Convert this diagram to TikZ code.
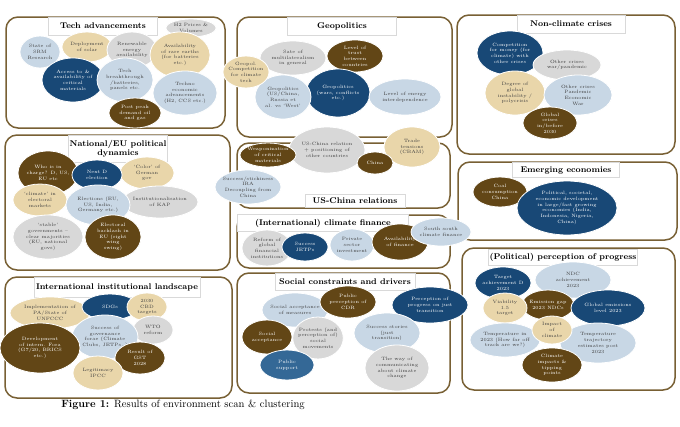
\documentclass[tikz,border=0pt]{standalone}
\usepackage{tikz}
\usetikzlibrary{shapes.geometric}
\definecolor{dkblue}{RGB}{24,72,118}
\definecolor{brwn}{RGB}{98,70,22}
\definecolor{sand}{RGB}{233,214,170}
\definecolor{pale}{RGB}{200,215,229}
\definecolor{grey}{RGB}{216,216,216}
\definecolor{midblue}{RGB}{52,104,150}
\definecolor{frame}{RGB}{120,96,52}
\tikzset{
  blob/.style={ellipse, draw=white, line width=0.8pt, inner sep=-2pt, align=center, font=\fontsize{4.7}{5.7}\selectfont},
  dk/.style={blob, fill=dkblue, text=white},
  md/.style={blob, fill=midblue, text=white},
  br/.style={blob, fill=brwn, text=white},
  sd/.style={blob, fill=sand, text=black!75},
  pl/.style={blob, fill=pale, text=black!75},
  gy/.style={blob, fill=grey, text=black!75},
  sz/.style 2 args={minimum width=#1, minimum height=#2},
  cluster/.style={draw=frame, line width=1.5pt, rounded corners=12pt, fill=white},
  ttl/.style={draw=black!15, fill=white, inner sep=1pt, align=center, font=\bfseries\fontsize{8.3}{9.3}\selectfont}
}
\begin{document}
\begin{tikzpicture}[x=1pt, y=-1pt]
    \useasboundingbox (0,0) rectangle (680,426);
    \fill[white] (0,0) rectangle (680,426);

    % Cluster frames
    \draw[cluster] (6,17) rectangle (225,128);
    \draw[cluster] (5,135) rectangle (230,270);
    \draw[cluster] (5,277) rectangle (232,398);
    \draw[cluster] (237,17) rectangle (452,137);
    \draw[cluster] (237,143) rectangle (450,208);
    \draw[cluster] (237,215) rectangle (450,268);
    \draw[cluster] (237,273) rectangle (450,393);
    \draw[cluster] (457,15) rectangle (675,154);
    \draw[cluster] (458,162) rectangle (677,240);
    \draw[cluster] (462,248) rectangle (675,390);

    % Cluster titles
    \node[ttl, minimum width=109, minimum height=18] (tTech) at (103,26) {Tech advancements};
    \node[ttl, minimum width=96, minimum height=27] (tNat) at (118,149) {National/EU political\\dynamics};
    \node[ttl, minimum width=166, minimum height=20] (tInt) at (117,287) {International institutional landscape};
    \node[ttl, minimum width=109, minimum height=18] (tGeo) at (342,26) {Geopolitics};
    \node[ttl, minimum width=100, minimum height=13] (tUSC) at (355,201) {US-China relations};
    \node[ttl, minimum width=171, minimum height=17] (tFin) at (323,223) {(International) climate finance};
    \node[ttl, minimum width=140, minimum height=17] (tSoc) at (345,282) {Social constraints and drivers};
    \node[ttl, minimum width=108, minimum height=18] (tNon) at (571,24) {Non-climate crises};
    \node[ttl, minimum width=107, minimum height=15] (tEme) at (566,170) {Emerging economies};
    \node[ttl, minimum width=147, minimum height=16] (tPol) at (563,257) {(Political) perception of progress};

    % Tech advancements
    \node[gy, sz={50}{18}] (t1) at (191,28) {H2 Prices \&\\Volumes};
    \node[pl, sz={40}{32}] (t2) at (40,52) {State of\\SRM\\Research};
    \node[sd, sz={50}{30}] (t3) at (87,47) {Deployment\\of solar};
    \node[gy, sz={50}{36}] (t4) at (132,50) {Renewable\\energy\\availability};
    \node[sd, sz={60}{46}] (t5) at (180,55) {Availability\\of rare earths\\(for batteries\\etc.)};
    \node[dk, sz={62}{44}] (t6) at (73,80) {Access to \&\\availability of\\critical\\materials};
    \node[pl, sz={56}{44}] (t7) at (125,80) {Tech\\breakthrough\\/batteries,\\panels etc.};
    \node[pl, sz={64}{44}] (t8) at (185,93) {Techno\\economic\\advancements\\(H2, CCS etc.)};
    \node[br, sz={52}{30}] (t9) at (135,113) {Post peak\\demand oil\\and gas};

    % Geopolitics
    \node[gy, sz={66}{34}] (g1) at (293,58) {Sate of\\multilateralism\\in general};
    \node[br, sz={56}{32}] (g2) at (355,56) {Level of\\trust\\between\\countries};
    \node[dk, sz={64}{48}] (g3) at (338,93) {Geopolitics\\(wars, conflicts\\etc.)};
    \node[pl, sz={56}{44}] (g4) at (283,97) {Geopolitics\\(US/China,\\Russia et\\al. vs `West'};
    \node[pl, sz={72}{36}] (g5) at (405,97) {Level of energy\\interdependence};
    \node[sd, sz={46}{32}] (g6) at (246,72) {Geopol.\\Competition\\for climate\\tech};

    % US-China relations
    \node[gy, sz={76}{46}] (u1) at (327,150) {US-China relation\\+ positioning of\\other countries};
    \node[sd, sz={56}{40}] (u2) at (412,147) {Trade\\tensions\\(CBAM)};
    \node[br, sz={56}{24}] (u3) at (268,155) {Weaponization\\of critical\\materials};
    \node[br, sz={36}{22}] (u4) at (375,163) {China};
    \node[pl, sz={66}{34}] (u5) at (248,187) {Success/stickiness\\IRA\\Decoupling from\\China};

    % (International) climate finance
    \node[gy, sz={50}{36}] (f1) at (267,248) {Reform of\\global\\financial\\institutions};
    \node[pl, sz={44}{32}] (f3) at (352,245) {Private\\sector\\investment};
    \node[dk, sz={46}{28}] (f2) at (305,247) {Success\\JETPs};
    \node[br, sz={56}{36}] (f4) at (400,242) {Availability\\of finance};
    \node[pl, sz={60}{28}] (f5) at (441,232) {South south\\climate finance};

    % Non-climate crises
    \node[dk, sz={66}{44}] (n1) at (510,53) {Competition\\for money (for\\climate) with\\other crises};
    \node[gy, sz={68}{30}] (n2) at (567,65) {Other crises\\war/pandemic};
    \node[sd, sz={60}{44}] (n3) at (515,93) {Degree of\\global\\instability /\\polycrisis};
    \node[pl, sz={68}{40}] (n4) at (578,95) {Other crises\\Pandemic\\Economic\\War};
    \node[br, sz={54}{32}] (n5) at (550,123) {Global\\crises\\in/before\\2030};

    % Emerging economies
    \node[br, sz={54}{30}] (e1) at (500,192) {Coal\\consumption\\China};
    \node[dk, sz={100}{54}] (e2) at (567,208) {Political, societal,\\economic development\\in large/fast growing\\economies (India,\\Indonesia, Nigeria,\\China)};

    % (Political) perception of progress
    \node[pl, sz={76}{36}] (p2) at (573,280) {NDC\\achievement\\2023};
    \node[dk, sz={56}{32}] (p1) at (503,283) {Target\\achievement D\\2023};
    \node[br, sz={52}{30}] (p4) at (548,305) {Emission gap\\2023 NDCs};
    \node[sd, sz={44}{30}] (p3) at (505,308) {Viability\\1.5\\target};
    \node[dk, sz={74}{36}] (p5) at (608,308) {Global emissions\\level 2023};
    \node[pl, sz={70}{34}] (p7) at (505,340) {Temperature in\\2023 (How far off\\track are we?)};
    \node[pl, sz={76}{40}] (p8) at (598,343) {Temperature\\trajectory\\estimates post\\2023};
    \node[sd, sz={40}{28}] (p6) at (552,330) {Impact\\of\\climate};
    \node[br, sz={60}{34}] (p9) at (552,365) {Climate\\impacts \&\\tipping\\points};

    % National/EU political dynamics
    \node[br, sz={60}{44}] (d1) at (48,173) {Who is in\\charge? D, US,\\EU etc};
    \node[sd, sz={54}{32}] (d3) at (147,173) {`Color' of\\German\\gov};
    \node[dk, sz={50}{30}] (d2) at (97,175) {Next D\\election};
    \node[sd, sz={54}{32}] (d4) at (40,200) {`climate' in\\electoral\\markets};
    \node[gy, sz={76}{32}] (d6) at (160,202) {Institutionalisation\\of KAP};
    \node[pl, sz={64}{40}] (d5) at (98,205) {Elections (EU,\\US, India,\\Germany etc.)};
    \node[gy, sz={70}{44}] (d7) at (48,237) {`stable'\\governments --\\clear majorities\\(EU, national\\govs)};
    \node[br, sz={56}{44}] (d8) at (113,237) {Electoral\\backlash in\\EU (right\\wing\\swing)};

    % International institutional landscape
    \node[sd, sz={80}{32}] (i1) at (50,313) {Implementation of\\PA/State of\\UNFCCC};
    \node[dk, sz={56}{26}] (i2) at (110,307) {SDGs};
    \node[sd, sz={40}{28}] (i3) at (147,307) {2030\\CBD\\targets};
    \node[gy, sz={40}{28}] (i4) at (153,330) {WTO\\reform};
    \node[pl, sz={66}{44}] (i5) at (105,337) {Success of\\governance\\forae (Climate\\Clubs, JETPs..)};
    \node[br, sz={80}{50}] (i6) at (40,348) {Development\\of intern. Fora\\(G7/20, BRICS\\etc.)};
    \node[br, sz={50}{32}] (i7) at (140,358) {Result of\\GST\\2028};
    \node[sd, sz={50}{34}] (i8) at (98,373) {Legitimacy\\IPCC};

    % Social constraints and drivers
    \node[pl, sz={66}{34}] (s1) at (295,310) {Social acceptance\\of measures};
    \node[br, sz={56}{32}] (s2) at (348,302) {Public\\perception of\\CDR};
    \node[dk, sz={76}{36}] (s3) at (430,305) {Perception of\\progress on just\\transition};
    \node[br, sz={50}{34}] (s4) at (267,337) {Social\\acceptance};
    \node[gy, sz={50}{42}] (s5) at (318,338) {Protests (and\\perception of)\\social\\movements};
    \node[pl, sz={66}{40}] (s6) at (387,333) {Success stories\\(just\\transition)};
    \node[md, sz={54}{30}] (s7) at (287,365) {Public\\support};
    \node[gy, sz={64}{46}] (s8) at (397,368) {The way of\\communicating\\about climate\\change};

    % Caption
    \node[font=\fontsize{10.6}{12}\selectfont] (cap) at (183,405) {\textbf{Figure 1:} Results of environment scan \& clustering};
\end{tikzpicture}
\end{document}
